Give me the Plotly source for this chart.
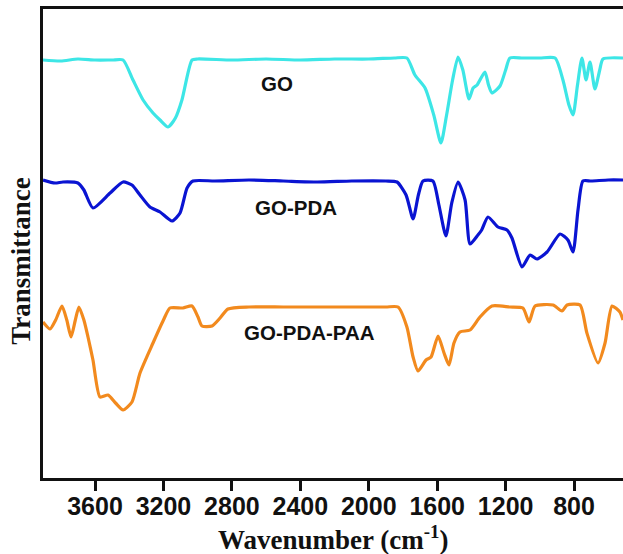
import plotly.graph_objects as go

# ---- data (wavenumber in cm^-1, transmittance in arbitrary units) ----
go_wn = [3904, 3800, 3700, 3600, 3500, 3436, 3378, 3319, 3261, 3220, 3173, 3130, 3092, 3033,
         3000, 2800, 2600, 2400, 2200, 2000, 1850, 1777, 1730, 1671, 1620, 1578, 1545, 1510,
         1478, 1450, 1414, 1390, 1367, 1321, 1300, 1280, 1233, 1200, 1175, 1100, 1000, 911,
         865, 830, 806, 780, 754, 730, 707, 678, 650, 631, 514]
go_t = [418, 417, 419, 418, 418, 418, 398, 378, 365, 358, 351, 360, 378, 418,
        419, 418, 419, 418, 419, 419, 420, 420, 403, 390, 363, 335, 363, 398,
        421, 408, 379, 390, 393, 406, 393, 385, 392, 408, 420, 420, 420, 420,
        398, 373, 363, 393, 420, 398, 416, 389, 408, 419, 420]

pda_wn = [3904, 3834, 3787, 3700, 3665, 3612, 3512, 3436, 3384, 3337, 3279, 3220, 3150, 3103,
          3062, 3027, 2900, 2700, 2500, 2300, 2100, 1900, 1835, 1782, 1741, 1710, 1683, 1625,
          1590, 1549, 1515, 1478, 1437, 1408, 1362, 1340, 1303, 1245, 1192, 1163, 1104, 1057,
          1017, 958, 882, 836, 806, 777, 748, 700, 600, 514]
pda_t = [298, 295, 296, 295, 288, 270, 285, 296, 293, 283, 271, 266, 257, 265,
         290, 297, 297, 298, 297, 296, 297, 297, 296, 283, 259, 283, 297, 297,
         273, 242, 275, 296, 278, 234, 243, 248, 261, 251, 248, 240, 211, 223,
         219, 226, 244, 238, 226, 268, 297, 297, 298, 298]

paa_wn = [3904, 3863, 3830, 3793, 3765, 3740, 3715, 3694, 3665, 3641, 3612, 3571, 3524, 3480,
          3436, 3384, 3337, 3261, 3200, 3162, 3086, 3033, 2998, 2975, 2916, 2869, 2823, 2700,
          2500, 2300, 2100, 1900, 1829, 1777, 1741, 1712, 1665, 1636, 1595, 1560, 1531, 1502,
          1467, 1408, 1350, 1280, 1175, 1099, 1063, 1028, 923, 871, 841, 765, 725, 660,
          619, 578, 532, 514]
paa_t = [156, 149, 158, 172, 158, 141, 158, 171, 158, 141, 118, 81, 83, 75,
         68, 76, 105, 135, 158, 170, 170, 172, 161, 152, 152, 160, 169, 171,
         171, 171, 171, 171, 171, 151, 121, 107, 118, 121, 142, 125, 113, 135,
         146, 148, 161, 172, 171, 170, 156, 172, 173, 167, 173, 173, 145, 115,
         135, 172, 166, 158]

series_names = ["GO", "GO-PDA", "GO-PDA-PAA"]
series_colors = ["#3DE6E6", "#0A14D2", "#F28A1E"]
label_wn = [2536, 2425, 2349]
label_t = [395, 271, 146]

x_ticks = [3600, 3200, 2800, 2400, 2000, 1600, 1200, 800]

fig = go.Figure()
for wn, t, name, col in zip([go_wn, pda_wn, paa_wn], [go_t, pda_t, paa_t], series_names, series_colors):
    fig.add_trace(go.Scatter(x=wn, y=t, mode="lines", name=name,
                             line=dict(color=col, width=3.2, shape="spline", smoothing=0.6)))

for name, xw, yt in zip(series_names, label_wn, label_t):
    fig.add_annotation(x=xw, y=yt, text="<b>%s</b>" % name, showarrow=False,
                       font=dict(family="Liberation Sans, Arial", size=20.5, color="#111111"))

fig.add_annotation(xref="paper", yref="paper", x=0.5, y=-0.128, xanchor="center", yanchor="middle",
                   text="<b>Wavenumber (cm<sup>-1</sup>)</b>", showarrow=False,
                   font=dict(family="Liberation Serif, Times New Roman", size=27, color="#111111"))
fig.add_annotation(xref="paper", yref="paper", x=-0.038, y=0.463, xanchor="center", yanchor="middle",
                   textangle=-90,
                   text="<b>Transmittance</b>", showarrow=False,
                   font=dict(family="Liberation Serif, Times New Roman", size=27, color="#111111"))

fig.update_layout(
    width=623, height=554,
    margin=dict(l=43, r=0, t=9, b=76, autoexpand=False),
    paper_bgcolor="white", plot_bgcolor="white",
    showlegend=False,
    xaxis=dict(range=[3904, 514], tickvals=x_ticks, ticktext=[str(v) for v in x_ticks],
               ticks="outside", ticklen=10, tickwidth=3, tickcolor="#111111",
               ticklabelstandoff=-6,
               showline=True, linewidth=3, linecolor="#111111", mirror=True,
               showgrid=False, zeroline=False,
               tickfont=dict(family="Liberation Sans, Arial", size=25, color="#111111", weight="bold")),
    yaxis=dict(range=[0, 469], showticklabels=False, ticks="",
               showline=True, linewidth=3, linecolor="#111111",
               showgrid=False, zeroline=False),
)

fig.write_html("out.html", config={"displayModeBar": False},
               post_script="document.body.style.margin='0px';document.body.style.overflow='hidden';")
